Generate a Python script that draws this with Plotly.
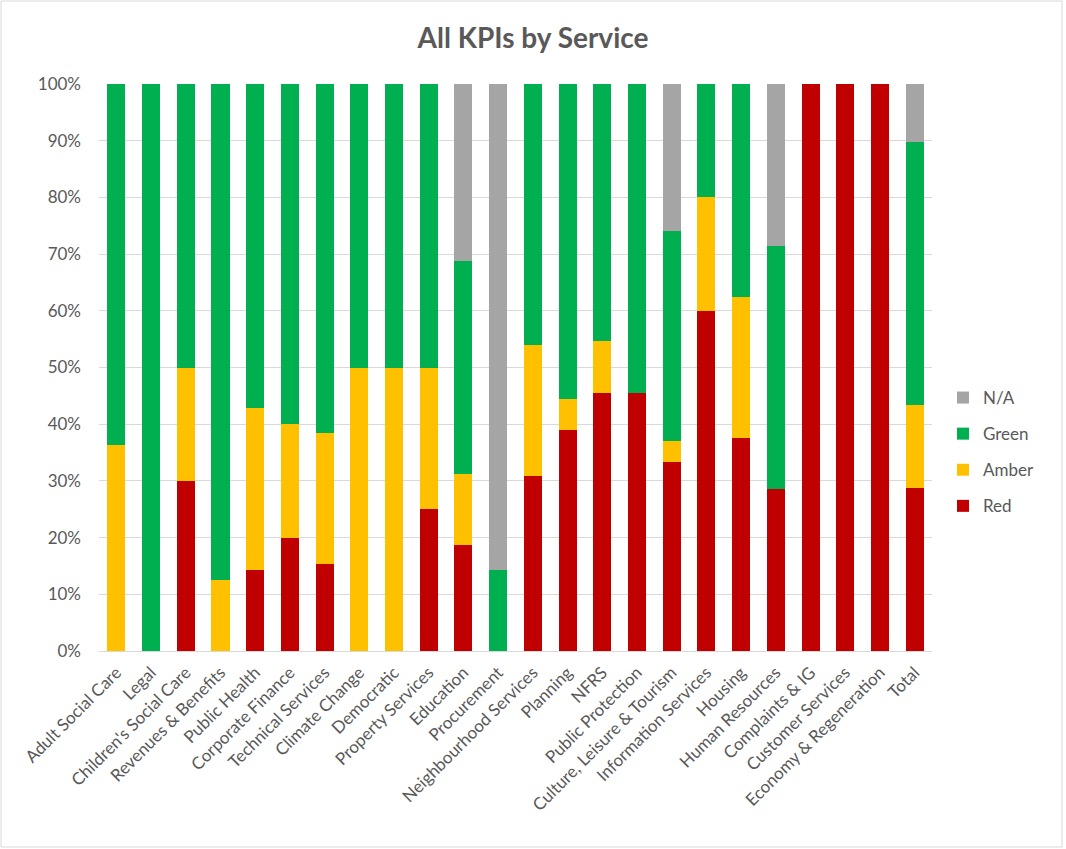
import plotly.graph_objects as go

categories = ["Adult Social Care", "Legal", "Children's Social Care", "Revenues & Benefits",
              "Public Health", "Corporate Finance", "Technical Services", "Climate Change",
              "Democratic", "Property Services", "Education", "Procurement",
              "Neighbourhood Services", "Planning", "NFRS", "Public Protection",
              "Culture, Leisure & Tourism", "Information Services", "Housing",
              "Human Resources", "Complaints & IG", "Customer Services",
              "Economy & Regeneration", "Total"]

red   = [0, 0, 30.0, 0, 14.3, 20.0, 15.4, 0, 0, 25.0, 18.75, 0, 30.8, 38.9, 45.5, 45.5,
         33.3, 60.0, 37.5, 28.6, 100, 100, 100, 28.7]
amber = [36.4, 0, 20.0, 12.5, 28.6, 20.0, 23.1, 50.0, 50.0, 25.0, 12.5, 0, 23.1, 5.6, 9.1, 0,
         3.7, 20.0, 25.0, 0, 0, 0, 0, 14.7]
green = [63.6, 100, 50.0, 87.5, 57.1, 60.0, 61.5, 50.0, 50.0, 50.0, 37.5, 14.3, 46.1, 55.5, 45.4, 54.5,
         37.0, 20.0, 37.5, 42.9, 0, 0, 0, 46.4]
na    = [0, 0, 0, 0, 0, 0, 0, 0, 0, 0, 31.25, 85.7, 0, 0, 0, 0,
         26.0, 0, 0, 28.5, 0, 0, 0, 10.2]

series = [("Red", red, "#C00000", 4), ("Amber", amber, "#FFC000", 3),
          ("Green", green, "#00B050", 2), ("N/A", na, "#A5A5A5", 1)]

fig = go.Figure()
for name, vals, col, rank in series:
    fig.add_trace(go.Bar(x=categories, y=vals, name=name, marker_color=col,
                         marker_line_width=0, legendgroup=name, legendrank=rank))

W, H = 1066, 849
ml, mr, mt, mb = 99, 134, 84, 198
pw, ph = W - ml - mr, H - mt - mb

def px(x):
    return (x - ml) / pw

def py(y):
    return (H - mb - y) / ph

fig.add_shape(type="rect", xref="paper", yref="paper",
              x0=px(1), x1=px(1062), y0=py(847), y1=py(1),
              line=dict(color="#D9D9D9", width=1), fillcolor="rgba(0,0,0,0)")

fig.update_layout(
    width=W, height=H,
    barmode="stack", bargap=0.48,
    plot_bgcolor="white", paper_bgcolor="white",
    margin=dict(l=ml, r=mr, t=mt, b=mb, pad=0),
    font=dict(family="Lato, Open Sans, sans-serif", color="#595959", size=17),
    title=dict(text="<b>All KPIs by Service</b>", x=0.5, xanchor="center",
               xref="container", y=1 - 38 / H, yanchor="middle",
               font=dict(size=28, color="#595959")),
    legend=dict(x=px(943), xanchor="left", y=py(452), yanchor="middle",
                traceorder="grouped", tracegroupgap=11,
                font=dict(size=17, color="#595959"),
                itemwidth=30),
    showlegend=True,
)
fig.update_xaxes(tickangle=-45, showgrid=False, showline=True, linecolor="#D9D9D9",
                 ticks="", automargin=False, ticklabelstandoff=4,
                 tickfont=dict(size=17, color="#595959"))
fig.update_yaxes(range=[0, 100], dtick=10, ticksuffix="%", showgrid=True,
                 gridcolor="#D9D9D9", zeroline=False, showline=False, ticks="",
                 automargin=False, ticklabelstandoff=17,
                 tickfont=dict(size=17, color="#595959"))

fig.write_html("out.html")
